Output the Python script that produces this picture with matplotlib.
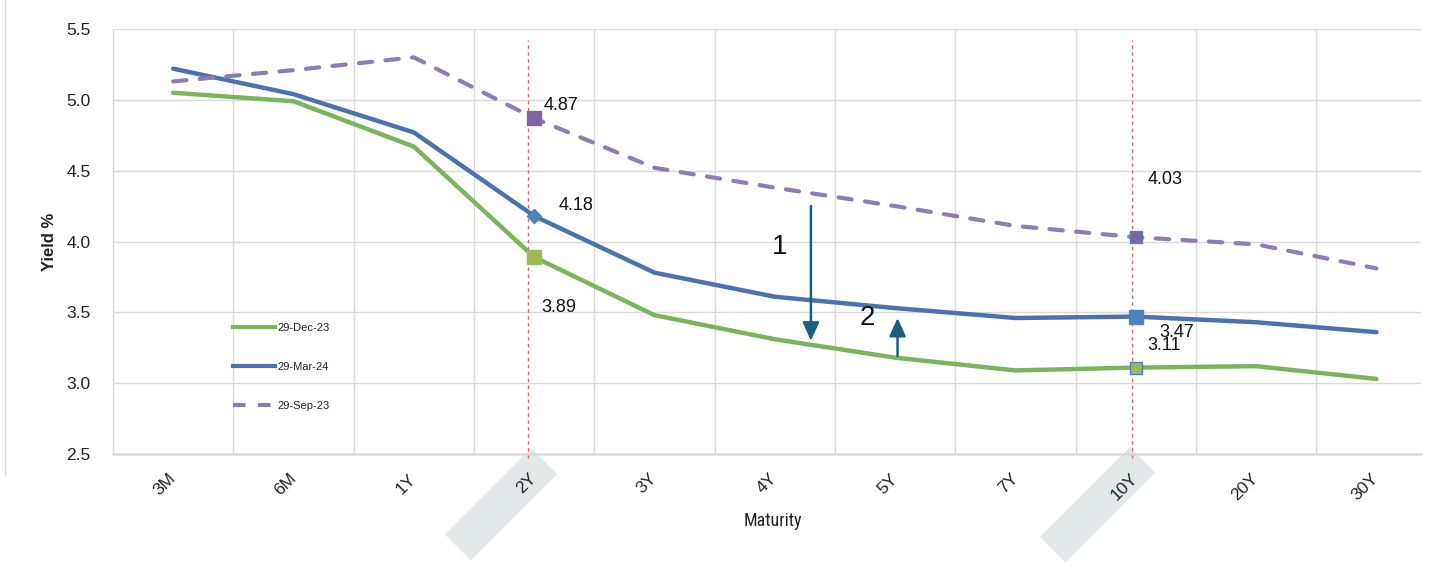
import matplotlib
matplotlib.use("Agg")
import matplotlib.pyplot as plt
import matplotlib.transforms as mtransforms
from matplotlib.patches import Rectangle
from matplotlib.lines import Line2D

# ---- data ----
maturities = ["3M", "6M", "1Y", "2Y", "3Y", "4Y", "5Y", "7Y", "10Y", "20Y", "30Y"]
dec23 = [5.05, 4.99, 4.67, 3.89, 3.48, 3.31, 3.18, 3.09, 3.11, 3.12, 3.03]
mar24 = [5.22, 5.04, 4.77, 4.18, 3.78, 3.61, 3.53, 3.46, 3.47, 3.43, 3.36]
sep23 = [5.13, 5.21, 5.30, 4.87, 4.52, 4.38, 4.25, 4.11, 4.03, 3.98, 3.81]
series_labels = ["29-Dec-23", "29-Mar-24", "29-Sep-23"]
highlight = ["2Y", "10Y"]
y_ticks = [2.5, 3.0, 3.5, 4.0, 4.5, 5.0, 5.5]

GREEN = "#7AB55C"
BLUE = "#4A73AE"
PURPLE = "#8E7CB4"
ARROW = "#1B5F7D"

plt.rcParams['font.family'] = ['Liberation Sans', 'DejaVu Sans']
NARROW = ['Liberation Sans Narrow', 'Roboto Condensed', 'Liberation Sans', 'DejaVu Sans']

fig = plt.figure(figsize=(14.3, 5.73), dpi=100)
ax = fig.add_axes([113/1430, 1-454/573, (1421-113)/1430, (454-29)/573])

x = list(range(len(maturities)))
l_dec, = ax.plot(x, dec23, color=GREEN, lw=3.2, solid_capstyle='round', solid_joinstyle='round', zorder=3)
l_mar, = ax.plot(x, mar24, color=BLUE, lw=3.2, solid_capstyle='round', solid_joinstyle='round', zorder=3)
l_sep, = ax.plot(x, sep23, color=PURPLE, lw=3.0, dashes=(3.2, 3.2), dash_capstyle='round', zorder=3)

i2 = maturities.index("2Y")
i10 = maturities.index("10Y")

# markers at 2Y
ax.plot(i2, sep23[i2], marker='s', ms=10, color='#8064A2', mec='#8064A2', zorder=4)
ax.plot(i2, mar24[i2], marker='D', ms=7, color='#4F81BD', mec='#4F81BD', zorder=4)
ax.plot(i2, dec23[i2], marker='s', ms=10, color='#9BBB59', mec='#9BBB59', zorder=4)
# markers at 10Y
ax.plot(i10, sep23[i10], marker='s', ms=9, color='#8064A2', mec='#4F81BD', mew=1, zorder=4)
ax.plot(i10, mar24[i10], marker='s', ms=9.5, color='#4F81BD', mec='#4F81BD', zorder=4)
ax.plot(i10, dec23[i10], marker='s', ms=9, color='#9BBB59', mec='#4F81BD', mew=1, zorder=4)

# value labels
def vlabel(i, series, dx, dy):
    ax.annotate(f"{series[i]:.2f}", (i, series[i]), xytext=(dx, dy), textcoords='offset pixels',
                ha='left', va='center', fontsize=13, color='#111111', zorder=5)

vlabel(i2, sep23, 9, 13)
vlabel(i2, mar24, 24, 11)
vlabel(i2, dec23, 7, -50)
vlabel(i10, sep23, 12, 58)
vlabel(i10, mar24, 24, -16)
vlabel(i10, dec23, 12, 22)

# red dashed verticals
for lab, off in zip(highlight, [-0.05, -0.03]):
    ax.axvline(maturities.index(lab) + off, ymin=-0.01, ymax=0.975, color='#E06868',
               lw=1.0, dashes=(2.5, 2.5), zorder=2, clip_on=False)

# arrows and numbers
ax.annotate("", xy=(5.3, 3.30), xytext=(5.3, 4.25),
            arrowprops=dict(arrowstyle='-|>,head_length=1.1,head_width=0.5', color=ARROW, lw=1.8,
                            shrinkA=0, shrinkB=0), zorder=5)
ax.annotate("", xy=(6.02, 3.46), xytext=(6.02, 3.19),
            arrowprops=dict(arrowstyle='-|>,head_length=1.1,head_width=0.5', color=ARROW, lw=1.8,
                            shrinkA=0, shrinkB=0), zorder=5)
ax.text(5.04, 3.96, "1", fontsize=20, ha='center', va='center', color='#111111')
ax.text(5.77, 3.46, "2", fontsize=20, ha='center', va='center', color='#111111')

# axes styling
ax.set_xlim(-0.5, 10.37)
ax.set_ylim(2.5, 5.5)
ax.set_yticks(y_ticks)
ax.set_yticklabels([f"{v:.1f}" for v in y_ticks], fontsize=12.5, color='#222222')
ax.set_xticks(x)
ax.set_xticks([i + 0.5 for i in x[:-1]], minor=True)
ax.set_xticklabels(maturities, rotation=45, ha='right', rotation_mode='anchor',
                   fontsize=12.5, color='#222222', va='center')
shift = mtransforms.ScaledTranslation(3/100, -2/100, fig.dpi_scale_trans)
for lbl in ax.get_xticklabels():
    lbl.set_transform(lbl.get_transform() + shift)
ax.tick_params(axis='x', which='major', length=0, pad=16)
ax.tick_params(axis='x', which='minor', length=0)
ax.tick_params(axis='y', length=0, pad=16)
ax.grid(True, axis='y', color='#D9D9D9', lw=1.0)
ax.grid(True, axis='x', which='minor', color='#D9D9D9', lw=1.0)
ax.grid(False, axis='x', which='major')
ax.set_axisbelow(True)
for s in ['top', 'right']:
    ax.spines[s].set_visible(False)
ax.spines['left'].set_color('#D9D9D9')
ax.spines['left'].set_linewidth(1.0)
ax.spines['bottom'].set_color('#D9D9D9')
ax.spines['bottom'].set_linewidth(1.8)

ax.set_ylabel("Yield %", fontsize=12, fontweight='bold', color='#222222')
ax.yaxis.set_label_coords((57-113)/1308, 0.5)
ax.set_xlabel("Maturity", fontsize=13, color='#222222', family=NARROW)
ax.xaxis.set_label_coords((773-113)/1308, (454-521)/425)
ax.xaxis.label.set_va('center')

# grey highlight boxes behind 2Y and 10Y tick labels
fig.canvas.draw()
for lab, (dx, dy, L, W) in zip(highlight, [(-3, 6, 122, 37), (-6, 7, 127, 36)]):
    px, py = ax.transData.transform((maturities.index(lab), 2.5))
    rect = Rectangle((px + dx, py + dy), L, W, angle=225, facecolor='#E3E9E9', edgecolor='none',
                     transform=mtransforms.IdentityTransform(), zorder=0.2, clip_on=False)
    ax.add_artist(rect)

# legend
handles = [Line2D([], [], color=GREEN, lw=3),
           Line2D([], [], color=BLUE, lw=3),
           Line2D([], [], color=PURPLE, lw=3, dashes=(3, 3))]
leg = ax.legend(handles, series_labels, loc='center left', bbox_to_anchor=((233-113)/1308, (454-367)/425),
                frameon=False, fontsize=8, handlelength=3.8, handletextpad=0.2,
                labelspacing=2.6, borderpad=0, borderaxespad=0)
for t in leg.get_texts():
    t.set_color('#222222')

# left frame line
fig.add_artist(Line2D([5/1430, 5/1430], [1-475/573, 1.0], transform=fig.transFigure, color='#D9D9D9', lw=1))

fig.savefig("out.png", dpi=100)
